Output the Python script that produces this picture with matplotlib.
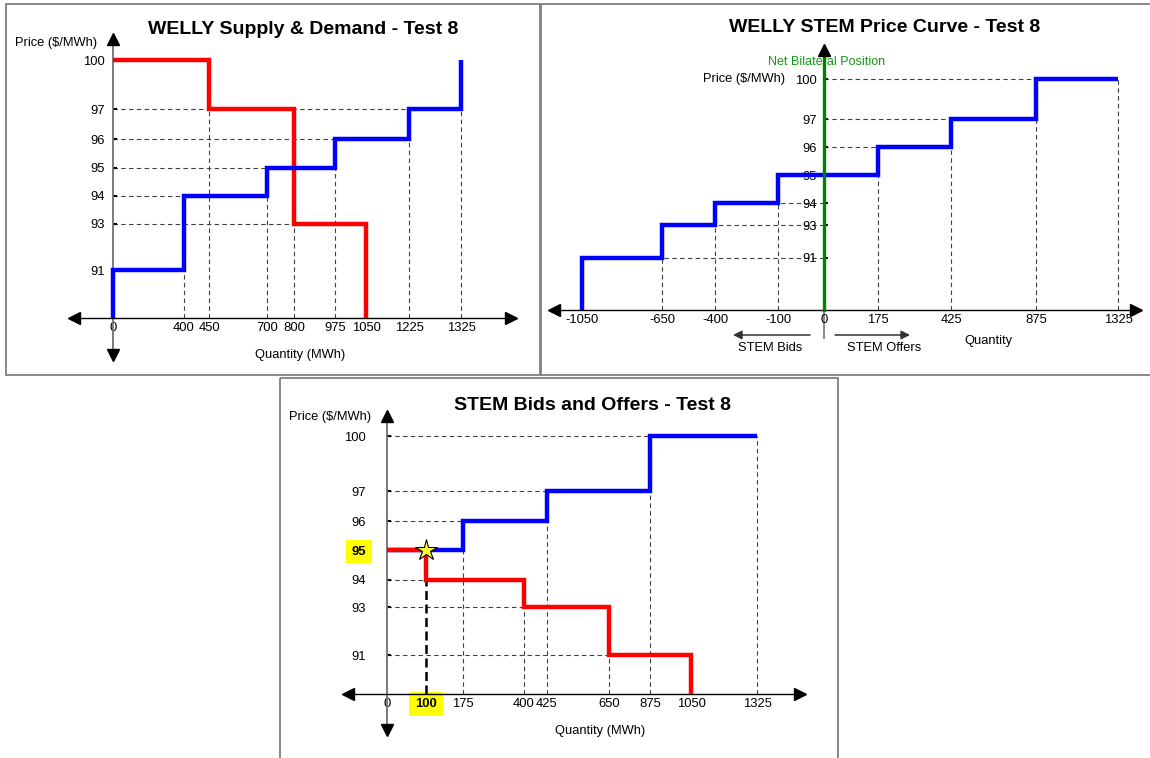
import numpy as np
import matplotlib
matplotlib.use('Agg')
import matplotlib.pyplot as plt
from matplotlib.patches import Rectangle

plt.rcParams['font.family'] = ['Liberation Sans', 'DejaVu Sans']

W, H = 1150, 758

# ---- data ----
prices = [91, 93, 94, 95, 96, 97, 100]

# WELLY supply & demand
sd_qty = [0, 400, 450, 700, 800, 975, 1050, 1225, 1325]
supply_edges = [0, 400, 700, 975, 1225, 1325]
supply_prices = [91, 94, 95, 96, 97]
demand_edges = [0, 450, 800, 1050]
demand_prices = [100, 97, 93]

# WELLY STEM price curve
curve_qty = [-1050, -650, -400, -100, 0, 175, 425, 875, 1325]
curve_edges = [-1050, -650, -400, -100, 175, 425, 875, 1325]
curve_prices = [91, 93, 94, 95, 96, 97, 100]

# STEM bids and offers
bo_qty = [0, 100, 175, 400, 425, 650, 875, 1050, 1325]
offer_edges = [0, 175, 425, 875, 1325]
offer_prices = [95, 96, 97, 100]
bid_edges = [0, 100, 400, 650, 1050]
bid_prices = [95, 94, 93, 91]
clear_qty, clear_price = 100, 95

# reference (dashed) lines: (price, quantity end) and (quantity, price top)
sd_h = [(97, 1225), (96, 975), (95, 700), (94, 400), (93, 800)]
sd_v = [(400, 91), (450, 97), (700, 94), (800, 93), (975, 95), (1225, 96), (1325, 97)]
curve_h = [(100, 875), (97, 425), (96, 175), (94, -100), (93, -400), (91, -650)]
curve_v = [(-650, 91), (-400, 93), (-100, 94), (175, 95), (425, 96), (875, 97), (1325, 100)]
bo_h = [(100, 875), (97, 425), (96, 175), (94, 100), (93, 400), (91, 650)]
bo_v = [(175, 95), (400, 93), (425, 96), (650, 91), (875, 97), (1325, 100)]

# ---- layout: schematic (non-linear) axis anchors in pixels ----
sd_xpx = [113, 184, 209, 267, 294, 335, 366, 409, 461]
sd_ypx = [318, 270, 224, 196, 168, 139, 109, 60]
curve_xpx = [582, 662, 715, 778, 824, 878, 951, 1036, 1118]
curve_ypx = [310, 258, 225, 203, 175, 147, 119, 79]
bo_xpx = [387, 426, 463, 524, 547, 609, 650, 691, 757]
bo_ypx = [694, 655, 607, 580, 550, 521, 491, 436]


def pixel_scale(values, pixels):
    v = np.asarray(values, float)
    p = np.asarray(pixels, float)

    def make(a, b):
        def f(x):
            x = np.asarray(x, float)
            y = np.interp(x, a, b)
            y = np.where(x < a[0], b[0] + (x - a[0]) * (b[1] - b[0]) / (a[1] - a[0]), y)
            y = np.where(x > a[-1], b[-1] + (x - a[-1]) * (b[-1] - b[-2]) / (a[-1] - a[-2]), y)
            return y
        return f
    return make(v, p), make(p, v)


def steps(edges, ps, start=None, end=None):
    xs, ys = [], []
    if start is not None:
        xs.append(edges[0]); ys.append(start)
    for i, p in enumerate(ps):
        xs += [edges[i], edges[i + 1]]
        ys += [p, p]
    if end is not None:
        xs.append(edges[-1]); ys.append(end)
    return xs, ys


fig = plt.figure(figsize=(W / 100, H / 100), dpi=100)
deco = fig.add_axes([0, 0, 1, 1])
deco.set_xlim(0, W)
deco.set_ylim(H, 0)
deco.axis('off')

# panel frames
for x0, y0, x1, y1 in [(6, 4, 540, 375), (541, 4, 1152, 375), (280, 378, 838, 760)]:
    deco.add_patch(Rectangle((x0, y0), x1 - x0, y1 - y0, fill=False,
                             ec='#7f7f7f', lw=1.3))


def make_panel(box, qty_ticks, xpx, ypx, yaxis_color='#707070', yaxis_lw=1.3,
               down_arrow=True, ylab_pad=5):
    left, top, right, bottom = box
    ax = fig.add_axes([left / W, 1 - bottom / H, (right - left) / W, (bottom - top) / H])
    ax.patch.set_visible(False)
    fx, ix = pixel_scale(qty_ticks, xpx)
    fy, iy = pixel_scale([0] + prices, [H - y for y in ypx])
    ax.set_xscale('function', functions=(fx, ix))
    ax.set_yscale('function', functions=(fy, iy))
    ax.set_xlim(float(ix(left)), float(ix(right)))
    ax.set_ylim(float(iy(H - bottom)), float(iy(H - top)))
    for s in ['top', 'right']:
        ax.spines[s].set_visible(False)
    ax.spines['left'].set_position(('data', 0))
    ax.spines['bottom'].set_position(('data', 0))
    ax.spines['left'].set_color(yaxis_color)
    ax.spines['left'].set_linewidth(yaxis_lw)
    ax.spines['bottom'].set_linewidth(1.0)
    ax.set_xticks(qty_ticks)
    ax.set_xticklabels([str(q) for q in qty_ticks])
    ax.set_yticks(prices)
    ax.set_yticklabels([str(p) for p in prices])
    ax.minorticks_off()
    ax.tick_params(axis='x', length=0, pad=3, labelsize=9.4)
    ax.tick_params(axis='y', length=3, width=1.5, direction='in', color='black',
                   pad=ylab_pad, labelsize=9.4)
    yt = ax.get_yaxis_transform()
    xt = ax.get_xaxis_transform()
    ax.plot([1], [0], '>', color='black', ms=9, transform=yt, clip_on=False, zorder=6)
    ax.plot([0], [0], '<', color='black', ms=9, transform=yt, clip_on=False, zorder=6)
    ax.plot([0], [1], '^', color='black', ms=9, transform=xt, clip_on=False, zorder=6)
    if down_arrow:
        ax.plot([0], [0], 'v', color='black', ms=9, transform=xt, clip_on=False, zorder=6)
    return ax


def guides(ax, hl, vl):
    dash = dict(color='#404040', lw=0.8, ls=(0, (4, 3)), zorder=1, clip_on=False)
    for p, q in hl:
        ax.plot([0, q], [p, p], **dash)
    for q, p in vl:
        ax.plot([q, q], [0, p], **dash)


line = dict(lw=3.2, solid_capstyle='butt', solid_joinstyle='miter', zorder=3, clip_on=False)

# ---- panel 1: WELLY Supply & Demand ----
ax1 = make_panel((74, 39, 511, 355), sd_qty, sd_xpx, sd_ypx, ylab_pad=6)
guides(ax1, sd_h, sd_v)
ax1.plot(*steps(demand_edges, demand_prices, end=0), color='#ff0000', **line)
ax1.plot(*steps(supply_edges, supply_prices, start=0, end=100), color='#0000ff', **line)
deco.text(303, 30, 'WELLY Supply & Demand - Test 8', ha='center', va='center',
          fontsize=14, fontweight='bold')
deco.text(15, 43, 'Price ($/MWh)', ha='left', va='center', fontsize=9.3)
deco.text(300, 355, 'Quantity (MWh)', ha='center', va='center', fontsize=9.3)

# ---- panel 2: WELLY STEM Price Curve ----
ax2 = make_panel((554, 50, 1136, 310), curve_qty, curve_xpx, curve_ypx,
                 yaxis_color='#008000', yaxis_lw=2.4, down_arrow=False, ylab_pad=5)
ax2.spines['left'].set_zorder(4)
guides(ax2, curve_h, curve_v)
ax2.plot(*steps(curve_edges, curve_prices, start=0), color='#0000ff', **line)
deco.text(885, 27, 'WELLY STEM Price Curve - Test 8', ha='center', va='center',
          fontsize=14, fontweight='bold')
deco.text(827, 62, 'Net Bilateral Position', ha='center', va='center',
          fontsize=9, color='#119911')
deco.text(703, 79, 'Price ($/MWh)', ha='left', va='center', fontsize=9.3)
deco.text(988, 341, 'Quantity', ha='center', va='center', fontsize=9.3)
deco.plot([824, 824], [312, 338], color='#808080', lw=1.3)
arrow = dict(arrowstyle='-|>', color='#333333', lw=1.1, mutation_scale=13,
             shrinkA=0, shrinkB=0)
deco.annotate('', xy=(733, 335), xytext=(810, 335), arrowprops=arrow)
deco.annotate('', xy=(910, 335), xytext=(835, 335), arrowprops=arrow)
deco.text(770, 348, 'STEM Bids', ha='center', va='center', fontsize=9.3)
deco.text(884, 348, 'STEM Offers', ha='center', va='center', fontsize=9.3)

# ---- panel 3: STEM Bids and Offers ----
ax3 = make_panel((348, 416, 800, 730), bo_qty, bo_xpx, bo_ypx, ylab_pad=15)
guides(ax3, bo_h, bo_v)
ax3.plot([clear_qty, clear_qty], [0, bid_prices[1]], color='black', lw=1.8,
         ls=(0, (3.6, 1.8)), zorder=2)
ax3.plot(*steps(offer_edges, offer_prices), color='#0000ff', **line)
ax3.plot(*steps(bid_edges, bid_prices, end=0), color='#ff0000', **line)
ax3.plot([clear_qty], [clear_price], '*', ms=16, mfc='#ffff33', mec='black',
         mew=0.8, zorder=5)
hl = dict(facecolor='#ffff00', edgecolor='none', boxstyle='square,pad=0.45')
for lab in ax3.get_xticklabels():
    if lab.get_text() == str(clear_qty):
        lab.set_fontweight('bold')
        lab.set_bbox(hl)
for lab in ax3.get_yticklabels():
    if lab.get_text() == str(clear_price):
        lab.set_fontweight('bold')
        lab.set_bbox(hl)
deco.text(592, 405, 'STEM Bids and Offers - Test 8', ha='center', va='center',
          fontsize=14, fontweight='bold')
deco.text(289, 417, 'Price ($/MWh)', ha='left', va='center', fontsize=9.3)
deco.text(600, 731, 'Quantity (MWh)', ha='center', va='center', fontsize=9.3)

fig.savefig('out.png', dpi=100)
